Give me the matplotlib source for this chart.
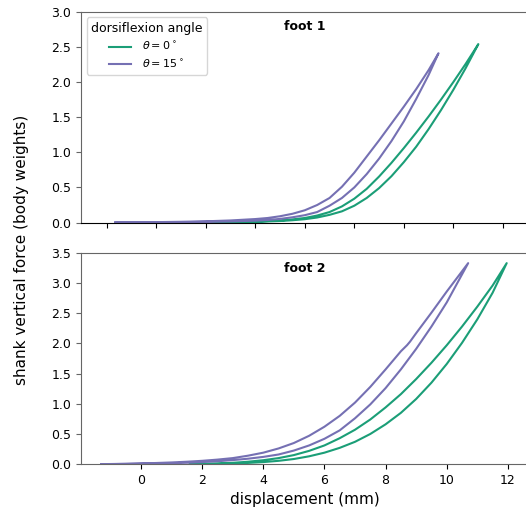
import numpy as np
import matplotlib.pyplot as plt

green = '#1b9e77'
purple = '#7570b3'

# foot 1, theta = 15 deg (upper and lower branch of the loop)
f1_p_up_x = [-3.66, -3.0, -2.0, -1.0, 0.0, 1.0, 2.0, 2.5, 3.0, 3.5, 4.0, 4.5, 5.0, 5.5, 6.0,
             6.5, 7.0, 7.5, 8.0, 8.5, 9.0, 9.4]
f1_p_up_y = [0.0, 0.002, 0.006, 0.011, 0.018, 0.03, 0.05, 0.065, 0.09, 0.125, 0.175, 0.25, 0.35,
             0.51, 0.71, 0.94, 1.17, 1.41, 1.65, 1.9, 2.17, 2.41]
f1_p_lo_x = [-3.66, -3.0, -2.0, -1.0, 0.0, 1.0, 2.0, 2.5, 3.0, 3.5, 4.0, 4.5, 5.0, 5.5, 6.0,
             6.5, 7.0, 7.5, 8.0, 8.5, 9.0, 9.4]
f1_p_lo_y = [0.0, 0.001, 0.003, 0.006, 0.01, 0.016, 0.027, 0.037, 0.052, 0.075, 0.105, 0.15,
             0.24, 0.35, 0.5, 0.69, 0.91, 1.16, 1.44, 1.76, 2.1, 2.41]
# foot 1, theta = 0 deg
f1_g_up_x = [-0.63, 0.0, 1.0, 2.0, 3.0, 3.5, 4.0, 4.5, 5.0, 5.5, 6.0, 6.5, 7.0, 7.5, 8.0, 8.5,
             9.0, 9.5, 10.0, 10.5, 11.01]
f1_g_up_y = [0.0, 0.002, 0.006, 0.014, 0.03, 0.045, 0.065, 0.1, 0.15, 0.23, 0.34, 0.48, 0.655,
             0.85, 1.06, 1.28, 1.51, 1.75, 2.0, 2.26, 2.54]
f1_g_lo_x = [-0.63, 0.0, 1.0, 2.0, 3.0, 3.5, 4.0, 4.5, 5.0, 5.5, 6.0, 6.5, 7.0, 7.5, 8.0, 8.5,
             9.0, 9.5, 10.0, 10.5, 11.01]
f1_g_lo_y = [0.0, 0.001, 0.004, 0.01, 0.022, 0.033, 0.048, 0.072, 0.11, 0.16, 0.24, 0.35, 0.49,
             0.66, 0.86, 1.08, 1.33, 1.6, 1.89, 2.2, 2.54]

# foot 2, theta = 15 deg
f2_p_up_x = [-1.29, -1.0, -0.5, 0.0, 0.5, 1.0, 1.5, 2.0, 2.5, 3.0, 3.5, 4.0, 4.5, 5.0, 5.5, 6.0,
             6.5, 7.0, 7.5, 8.0, 8.5, 8.7, 8.8, 9.0, 9.5, 10.0, 10.7]
f2_p_up_y = [0.0, 0.002, 0.006, 0.012, 0.019, 0.028, 0.04, 0.055, 0.075, 0.1, 0.14, 0.19, 0.26,
             0.35, 0.47, 0.62, 0.8, 1.02, 1.28, 1.57, 1.87, 1.97, 2.03, 2.17, 2.51, 2.86, 3.33]
f2_p_lo_x = [-1.29, -1.0, -0.5, 0.0, 0.5, 1.0, 1.5, 2.0, 2.5, 3.0, 3.5, 4.0, 4.5, 5.0, 5.5, 6.0,
             6.5, 7.0, 7.5, 8.0, 8.5, 9.0, 9.5, 10.0, 10.7]
f2_p_lo_y = [0.0, 0.001, 0.003, 0.006, 0.01, 0.015, 0.023, 0.034, 0.048, 0.067, 0.09, 0.12, 0.16,
             0.225, 0.31, 0.42, 0.56, 0.76, 0.99, 1.26, 1.57, 1.91, 2.28, 2.68, 3.33]
# foot 2, theta = 0 deg
f2_g_up_x = [1.6, 2.0, 2.5, 3.0, 3.5, 4.0, 4.5, 5.0, 5.5, 6.0, 6.5, 7.0, 7.5, 8.0, 8.5, 9.0, 9.5,
             10.0, 10.5, 11.0, 11.5, 11.96]
f2_g_up_y = [0.0, 0.004, 0.01, 0.022, 0.04, 0.065, 0.1, 0.15, 0.22, 0.31, 0.43, 0.57, 0.74, 0.94,
             1.16, 1.41, 1.68, 1.97, 2.28, 2.61, 2.96, 3.33]
f2_g_lo_x = [1.6, 2.0, 2.5, 3.0, 3.5, 4.0, 4.5, 5.0, 5.5, 6.0, 6.5, 7.0, 7.5, 8.0, 8.5, 9.0, 9.5,
             10.0, 10.5, 11.0, 11.5, 11.96]
f2_g_lo_y = [0.0, 0.002, 0.005, 0.011, 0.02, 0.034, 0.055, 0.085, 0.13, 0.19, 0.27, 0.37, 0.5,
             0.66, 0.85, 1.08, 1.35, 1.66, 2.01, 2.4, 2.84, 3.33]


def loop(up_x, up_y, lo_x, lo_y):
    x = list(lo_x) + list(up_x[::-1])
    y = list(lo_y) + list(up_y[::-1])
    return x, y


fig = plt.figure(figsize=(5.26, 5.14), dpi=100)
ax1 = fig.add_axes([0.154, 0.567, 0.85, 0.41])
ax2 = fig.add_axes([0.154, 0.097, 0.85, 0.411])

x, y = loop(f1_g_up_x, f1_g_up_y, f1_g_lo_x, f1_g_lo_y)
ax1.plot(x, y, color=green, lw=1.5, label=r'$\theta = 0^\circ$')
x, y = loop(f1_p_up_x, f1_p_up_y, f1_p_lo_x, f1_p_lo_y)
ax1.plot(x, y, color=purple, lw=1.5, label=r'$\theta = 15^\circ$')

x, y = loop(f2_g_up_x, f2_g_up_y, f2_g_lo_x, f2_g_lo_y)
ax2.plot(x, y, color=green, lw=1.5)
x, y = loop(f2_p_up_x, f2_p_up_y, f2_p_lo_x, f2_p_lo_y)
ax2.plot(x, y, color=purple, lw=1.5)

ax1.set_xlim(-5.04, 13.02)
ax1.set_ylim(0, 3.0)
ax2.set_xlim(-1.96, 12.66)
ax2.set_ylim(0, 3.5)

for ax in (ax1, ax2):
    ax.xaxis.set_major_locator(plt.MultipleLocator(2))
    ax.yaxis.set_major_locator(plt.MultipleLocator(0.5))
    ax.spines['right'].set_visible(False)
    for s in ('left', 'top', 'bottom'):
        ax.spines[s].set_color('0.4')
    ax.tick_params(axis='both', labelsize=9)
    ax.tick_params(axis='y', color='0.4')

ax1.spines['bottom'].set_color('black')
ax1.tick_params(axis='x', labelbottom=False)

ax1.text(0.5, 0.93, 'foot 1', transform=ax1.transAxes, ha='center', va='center',
         fontsize=9, fontweight='bold')
ax2.text(0.5, 0.925, 'foot 2', transform=ax2.transAxes, ha='center', va='center',
         fontsize=9, fontweight='bold')

leg = ax1.legend(title='dorsiflexion angle', loc='upper left', fontsize=8,
                 title_fontsize=9, handletextpad=1.0)

ax2.set_xlabel('displacement (mm)', fontsize=11)
fig.text(0.04, 0.514, 'shank vertical force (body weights)', rotation=90,
         ha='center', va='center', fontsize=11)

fig.savefig('out.png', dpi=100)
